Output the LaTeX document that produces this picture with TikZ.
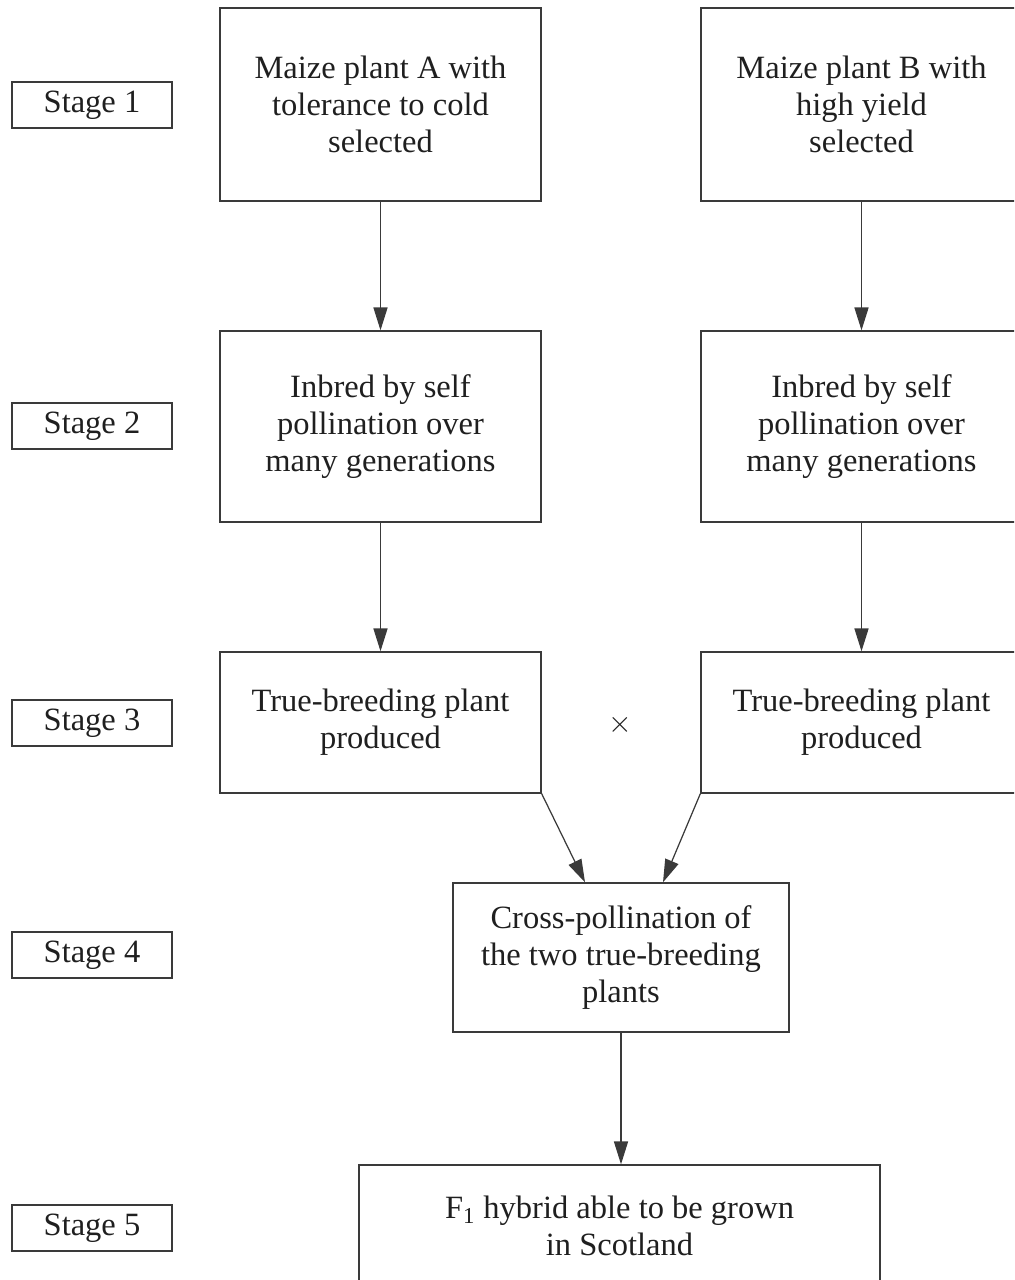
\documentclass[tikz,border=0pt]{standalone}
\usepackage{fontspec}
\setmainfont{Liberation Serif}
\usetikzlibrary{arrows.meta}
\definecolor{inkgray}{HTML}{3A3A3A}
\begin{document}
\begin{tikzpicture}[x=0.02cm,y=-0.02cm]
\tikzstyle{every node}+=[font=\fontsize{18.5}{21.2}\selectfont, text=black!88, align=center]
\tikzstyle{stagebox}=[draw=inkgray, line width=0.8pt, inner sep=0pt, minimum width=3.2cm, minimum height=0.92cm]
\tikzstyle{plantbox}=[draw=inkgray, line width=0.8pt, inner sep=0pt, minimum width=6.42cm]
\tikzstyle{flow}=[draw=inkgray, line width=0.7pt, -{Triangle[length=13pt,width=8pt]}]
\useasboundingbox (0,0) rectangle (1014,1280);
\clip (0,0) rectangle (1014,1280);
\node[stagebox] (s1) at (92,105) {Stage 1};
\node[stagebox] (s2) at (92,426) {Stage 2};
\node[stagebox] (s3) at (92,723) {Stage 3};
\node[stagebox] (s4) at (92,955) {Stage 4};
\node[stagebox] (s5) at (92,1228) {Stage 5};
\node[plantbox, minimum height=3.86cm] (a1) at (380.5,104.5) {Maize plant A with\\tolerance to cold\\selected};
\node[plantbox, minimum height=3.86cm] (b1) at (861.5,104.5) {Maize plant B with\\high yield\\selected};
\node[plantbox, minimum height=3.82cm] (a2) at (380.5,426.5) {Inbred by self\\pollination over\\many generations};
\node[plantbox, minimum height=3.82cm] (b2) at (861.5,426.5) {Inbred by self\\pollination over\\many generations};
\node[plantbox, minimum height=2.82cm] (a3) at (380.5,722.5) {True-breeding plant\\produced};
\node[plantbox, minimum height=2.82cm] (b3) at (861.5,722.5) {True-breeding plant\\produced};
\node (x) at (620,725) {$\times$};
\node[plantbox, minimum width=6.72cm, minimum height=2.98cm] (c4) at (621,957.5) {Cross-pollination of\\the two true-breeding\\plants};
\node[plantbox, minimum width=10.42cm, minimum height=2.44cm] (f5) at (619.5,1226) {F\textsubscript{1} hybrid able to be grown\\in Scotland};
\draw[flow] (a1) -- (a2);
\draw[flow] (b1) -- (b2);
\draw[flow] (a2) -- (a3);
\draw[flow] (b2) -- (b3);
\draw[flow] (a3.south east) -- ([xshift=-0.72cm]c4.north);
\draw[flow] (b3.south west) -- ([xshift=0.84cm]c4.north);
\draw[flow] (c4.south) -- (c4.south |- f5.north);
\end{tikzpicture}
\end{document}
